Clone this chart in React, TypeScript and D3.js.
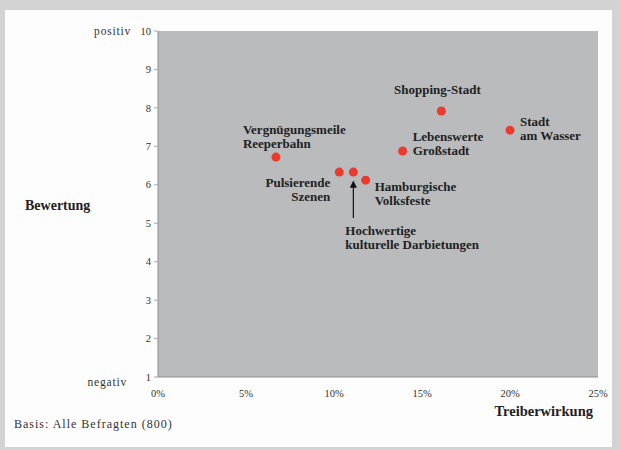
import React from "react";
import * as d3 from "d3";

const names = [
  ["Vergnügungsmeile", "Reeperbahn"],
  ["Pulsierende", "Szenen"],
  ["Hochwertige", "kulturelle Darbietungen"],
  ["Hamburgische", "Volksfeste"],
  ["Lebenswerte", "Großstadt"],
  ["Shopping-Stadt"],
  ["Stadt", "am Wasser"],
];
const treiber = [6.7, 10.3, 11.1, 11.8, 13.9, 16.1, 20.0];
const bewertung = [6.72, 6.33, 6.33, 6.12, 6.88, 7.92, 7.42];
const yTicks = [1, 2, 3, 4, 5, 6, 7, 8, 9, 10];
const xTicks = [0, 5, 10, 15, 20, 25];

// label placement relative to each point
const labelPos = [
  { dx: -33, dy: -23, anchor: "start" },
  { dx: -9, dy: 15, anchor: "end" },
  { dx: -8, dy: 63, anchor: "start", arrow: true },
  { dx: 9, dy: 11, anchor: "start" },
  { dx: 10, dy: -10, anchor: "start" },
  { dx: -4, dy: -17, anchor: "middle" },
  { dx: 10, dy: -4, anchor: "start" },
];

const W = 621,
  H = 450;
const plot = { left: 158, right: 598, top: 31, bottom: 377 };
const serif = "'Liberation Serif', 'DejaVu Serif', serif";

export default function App() {
  const x = d3.scaleLinear().domain([0, 25]).range([plot.left, plot.right]);
  const y = d3.scaleLinear().domain([1, 10]).range([plot.bottom, plot.top]);

  return (
    <svg
      width={W}
      height={H}
      style={{ position: "absolute", left: 0, top: 0, fontFamily: serif }}
    >
      <rect x={0} y={0} width={W} height={H} fill="#d3d3d3" />
      <rect x={5} y={10} width={607} height={437} fill="#fdfdfd" />

      <rect
        x={plot.left}
        y={plot.top}
        width={plot.right - plot.left}
        height={plot.bottom - plot.top}
        fill="#b9bbbd"
      />
      <line x1={plot.left} x2={plot.left} y1={plot.top} y2={plot.bottom} stroke="#8e8f90" />
      <line x1={plot.left} x2={plot.right} y1={plot.bottom} y2={plot.bottom} stroke="#8e8f90" />

      {yTicks.map((t) => (
        <g key={"y" + t}>
          <line x1={plot.left - 4} x2={plot.left} y1={y(t)} y2={y(t)} stroke="#aaa" />
          <text
            x={plot.left - 7}
            y={y(t)}
            dy="0.35em"
            textAnchor="end"
            fontSize={10.5}
            fill="#333"
          >
            {t}
          </text>
        </g>
      ))}
      {xTicks.map((t) => (
        <text
          key={"x" + t}
          x={x(t)}
          y={plot.bottom + 20}
          textAnchor="middle"
          fontSize={10.5}
          fill="#333"
        >
          {t + "%"}
        </text>
      ))}

      <text x={131} y={y(10)} dy="0.35em" textAnchor="end" fontSize={11.5} letterSpacing={0.8} fill="#333">
        positiv
      </text>
      <text x={127} y={y(1) + 5} dy="0.35em" textAnchor="end" fontSize={11.5} letterSpacing={0.8} fill="#333">
        negativ
      </text>
      <text x={25} y={205} dy="0.35em" fontSize={14} fontWeight="bold" fill="#222">
        Bewertung
      </text>
      <text x={593} y={416} textAnchor="end" fontSize={14.5} fontWeight="bold" fill="#222">
        Treiberwirkung
      </text>
      <text x={14} y={428} fontSize={12} letterSpacing={1} fill="#333">
        Basis: Alle Befragten (800)
      </text>

      {treiber.map((v, i) => {
        const px = x(v),
          py = y(bewertung[i]);
        const p = labelPos[i];
        return (
          <g key={"p" + i}>
            {p.arrow && (
              <line
                x1={px}
                x2={px}
                y1={py + 46}
                y2={py + 12}
                stroke="#111"
                strokeWidth={1.2}
                markerEnd="url(#arrow)"
              />
            )}
            <circle cx={px} cy={py} r={4.5} fill="#ec3a2c" />
            <text
              x={px + p.dx}
              y={py + p.dy}
              textAnchor={p.anchor}
              fontSize={13}
              fontWeight="bold"
              fill="#222"
            >
              {names[i].map((n, j) => (
                <tspan key={j} x={px + p.dx} dy={j === 0 ? 0 : 14}>
                  {n}
                </tspan>
              ))}
            </text>
          </g>
        );
      })}

      <defs>
        <marker
          id="arrow"
          viewBox="0 0 10 10"
          refX={5}
          refY={5}
          markerWidth={6}
          markerHeight={6}
          orient="auto"
        >
          <path d="M0,0 L10,5 L0,10 z" fill="#111" />
        </marker>
      </defs>
    </svg>
  );
}
